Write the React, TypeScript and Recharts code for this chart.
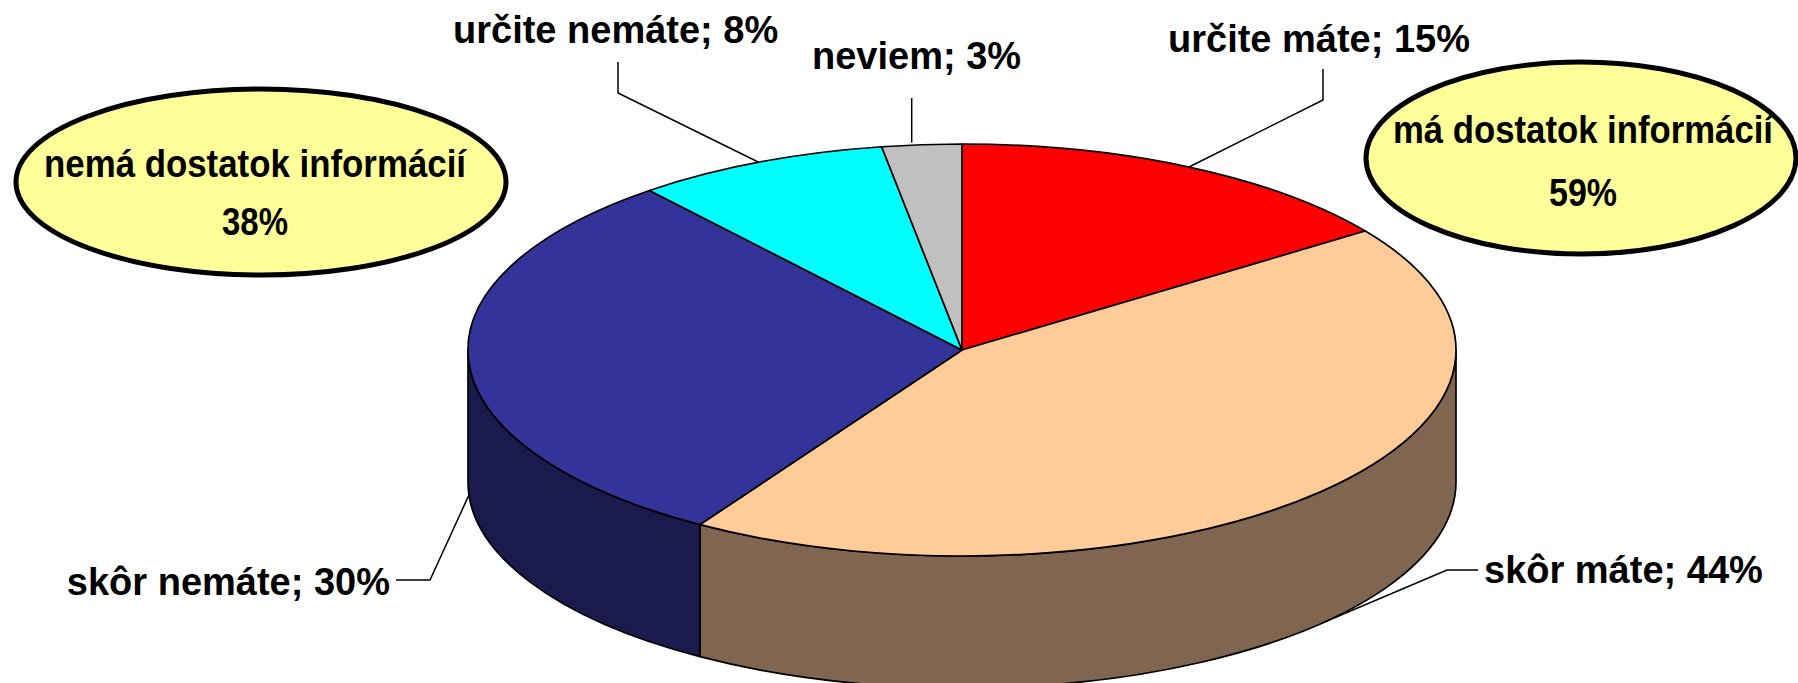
import { PieChart, Pie, Cell, Customized } from 'recharts'

const CATEGORIES = ['určite máte', 'skôr máte', 'skôr nemáte', 'určite nemáte', 'neviem']
const SHARES = [15.2, 43.7, 30.2, 8.3, 2.6]
const TOP_COLORS = ['#FF0000', '#FFCC99', '#333399', '#00FFFF', '#C0C0C0']
const SIDE_COLORS = ['#800000', '#806650', '#1A1A4D', '#008080', '#606060']

const GROUP_LABELS = ['nemá dostatok informácií', 'má dostatok informácií']
const GROUP_SHARES = [38, 59]

const data = CATEGORIES.map((name, i) => ({ name, value: SHARES[i] }))

const W = 1798
const H = 683
const CX = 962
const CY = 350
const RX = 494
const TILT = 0.417 // ry / rx of the tilted disc
const DEPTH = 132
const FONT = '"Liberation Sans", Arial, Helvetica, sans-serif'

// text position per slice + elbow points of the leader line (text side first)
const LABEL_LAYOUT = [
  { x: 1168, y: 52, anchor: 'start', elbow: [[1323, 69], [1323, 100]] },
  { x: 1484, y: 583, anchor: 'start', elbow: [[1478, 570], [1447, 570]] },
  { x: 390, y: 595, anchor: 'end', elbow: [[396, 580], [430, 580]] },
  { x: 453, y: 43, anchor: 'start', elbow: [[618, 62], [618, 93]] },
  { x: 812, y: 69, anchor: 'start', elbow: null },
]

// yellow callouts
const CALLOUTS = [
  { cx: 261, cy: 182, rx: 245, ry: 93, line1: 177, line2: 235, tx: 255, w1: 422, w2: 66 },
  { cx: 1581, cy: 158, rx: 215, ry: 96, line1: 143, line2: 206, tx: 1583, w1: 380, w2: 68 },
]

const RAD = Math.PI / 180
const pt = (cx: number, cy: number, r: number, a: number, dy = 0): [number, number] => [
  cx + r * Math.cos(a * RAD),
  cy - r * TILT * Math.sin(a * RAD) + dy,
]

function TopSlice(props: any) {
  const { cx, cy, outerRadius: r, startAngle, endAngle, fill } = props
  const [x1, y1] = pt(cx, cy, r, startAngle)
  const [x2, y2] = pt(cx, cy, r, endAngle)
  const large = Math.abs(startAngle - endAngle) > 180 ? 1 : 0
  const sweep = endAngle < startAngle ? 1 : 0
  const d = `M${cx},${cy} L${x1},${y1} A${r},${r * TILT} 0 ${large} ${sweep} ${x2},${y2} Z`
  return <path d={d} fill={fill} stroke="#000" strokeWidth={1.7} strokeLinejoin="round" />
}

function SideSlice(props: any) {
  const { cx, cy, outerRadius: r, startAngle, endAngle, fill } = props
  const hi = Math.max(startAngle, endAngle)
  const lo = Math.min(startAngle, endAngle)
  const parts: [number, number][] = []
  for (const [f0, f1] of [[-540, -360], [-180, 0], [180, 360]]) {
    const a = Math.max(lo, f0)
    const b = Math.min(hi, f1)
    if (b - a > 0.01) parts.push([a, b])
  }
  const ry = r * TILT
  return (
    <g>
      {parts.map(([a, b], i) => {
        const [xb, yb] = pt(cx, cy, r, b)
        const [xa, ya] = pt(cx, cy, r, a)
        const d = `M${xb},${yb} A${r},${ry} 0 0 1 ${xa},${ya} L${xa},${ya + DEPTH} A${r},${ry} 0 0 0 ${xb},${yb + DEPTH} Z`
        return <path key={i} d={d} fill={fill} stroke="#000" strokeWidth={1.7} strokeLinejoin="round" />
      })}
    </g>
  )
}

function renderLabel(props: any) {
  const { cx, cy, outerRadius: r, midAngle, index } = props
  const layout = LABEL_LAYOUT[index]
  const front = Math.sin(midAngle * RAD) < 0
  const [ax, ay] = pt(cx, cy, r, midAngle, front ? DEPTH : 0)
  const pts = layout.elbow ? [...layout.elbow, [ax, ay]] : [[ax - 10, 98], [ax - 10, ay - 2]]
  return (
    <g key={`lbl-${index}`}>
      <polyline points={pts.map((p) => p.join(',')).join(' ')} fill="none" stroke="#000" strokeWidth={1.5} />
      <text
        x={layout.x}
        y={layout.y}
        textAnchor={layout.anchor}
        fontFamily={FONT}
        fontWeight="bold"
        fontSize={38}
        fill="#000"
      >
        {`${CATEGORIES[index]}; ${Math.round(SHARES[index])}%`}
      </text>
    </g>
  )
}

function Callouts() {
  return (
    <g>
      {CALLOUTS.map((c, i) => (
        <g key={i}>
          <ellipse cx={c.cx} cy={c.cy} rx={c.rx} ry={c.ry} fill="#FFFF99" stroke="#000" strokeWidth={5} />
          <text
            x={c.tx}
            y={c.line1}
            textAnchor="middle"
            fontFamily={FONT}
            fontWeight="bold"
            fontSize={38}
            textLength={c.w1}
            lengthAdjust="spacingAndGlyphs"
          >
            {GROUP_LABELS[i]}
          </text>
          <text
            x={c.tx}
            y={c.line2}
            textAnchor="middle"
            fontFamily={FONT}
            fontWeight="bold"
            fontSize={39}
            textLength={c.w2}
            lengthAdjust="spacingAndGlyphs"
          >
            {`${GROUP_SHARES[i]}%`}
          </text>
        </g>
      ))}
    </g>
  )
}

export default function App() {
  return (
    <div style={{ position: 'absolute', left: 0, top: 0, width: W, height: H, background: '#fff', overflow: 'hidden' }}>
      <PieChart width={W} height={H} margin={{ top: 0, right: 0, bottom: 0, left: 0 }}>
        <Pie
          data={data}
          dataKey="value"
          nameKey="name"
          cx={CX}
          cy={CY}
          outerRadius={RX}
          startAngle={90}
          endAngle={-270}
          isAnimationActive={false}
          shape={SideSlice}
          activeShape={SideSlice}
          inactiveShape={SideSlice}
          label={false}
          labelLine={false}
        >
          {data.map((d, i) => (
            <Cell key={d.name} fill={SIDE_COLORS[i]} />
          ))}
        </Pie>
        <Pie
          data={data}
          dataKey="value"
          nameKey="name"
          cx={CX}
          cy={CY}
          outerRadius={RX}
          startAngle={90}
          endAngle={-270}
          isAnimationActive={false}
          shape={TopSlice}
          activeShape={TopSlice}
          inactiveShape={TopSlice}
          label={renderLabel}
          labelLine={false}
        >
          {data.map((d, i) => (
            <Cell key={d.name} fill={TOP_COLORS[i]} />
          ))}
        </Pie>
        <Customized component={Callouts} />
      </PieChart>
    </div>
  )
}
